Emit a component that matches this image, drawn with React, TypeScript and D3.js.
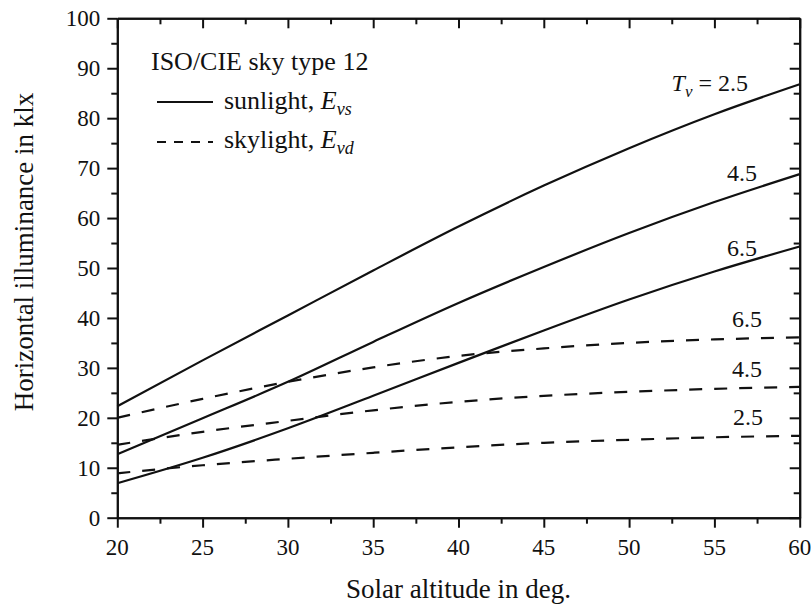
import React, { useEffect, useRef } from 'react';
import * as d3 from 'd3';

// solar altitude (deg) and horizontal illuminance (klx)
const altitudes = [20, 25, 30, 35, 40, 45, 50, 55, 60];
const sunlight25 = [22.3, 31.5, 40.5, 49.5, 58.3, 66.5, 74.0, 80.8, 86.8];
const sunlight45 = [12.7, 19.9, 27.2, 35.2, 43.0, 50.2, 57.0, 63.2, 68.8];
const sunlight65 = [6.9, 12.0, 17.9, 24.4, 31.0, 37.5, 43.7, 49.3, 54.3];
const skylight65 = [20.0, 23.8, 27.2, 30.1, 32.4, 33.9, 35.0, 35.7, 36.1];
const skylight45 = [14.6, 17.2, 19.4, 21.5, 23.2, 24.4, 25.2, 25.8, 26.2];
const skylight25 = [8.9, 10.5, 11.8, 13.0, 14.1, 15.0, 15.6, 16.1, 16.4];

const xMajor = [20, 25, 30, 35, 40, 45, 50, 55, 60];
const xMinor = [22.5, 27.5, 32.5, 37.5, 42.5, 47.5, 52.5, 57.5];
const yMajor = [0, 10, 20, 30, 40, 50, 60, 70, 80, 90, 100];
const yMinor = [5, 15, 25, 35, 45, 55, 65, 75, 85, 95];

const series = [
    { values: sunlight25, dashed: false, label: '2.5', first: true },
    { values: sunlight45, dashed: false, label: '4.5' },
    { values: sunlight65, dashed: false, label: '6.5' },
    { values: skylight65, dashed: true, label: '6.5' },
    { values: skylight45, dashed: true, label: '4.5' },
    { values: skylight25, dashed: true, label: '2.5' },
];

const FONT = '"Liberation Serif", "Times New Roman", serif';

const App = () => {
    const axesRef = useRef<SVGGElement>(null);

    const margin = { top: 18.3, left: 117.3 };
    const width = 682.4;
    const height = 499.4;

    const x = d3.scaleLinear().domain([20, 60]).range([0, width]);
    const y = d3.scaleLinear().domain([0, 100]).range([height, 0]);

    const line = d3.line<[number, number]>()
        .x(d => x(d[0]))
        .y(d => y(d[1]))
        .curve(d3.curveMonotoneX);

    useEffect(() => {
        const g = d3.select(axesRef.current);
        g.selectAll('*').remove();

        const style = (sel: any) => {
            sel.selectAll('path').attr('stroke', '#111').attr('stroke-width', 2);
            sel.selectAll('line').attr('stroke', '#111').attr('stroke-width', 2);
            sel.selectAll('text').remove();
        };
        const none = () => '';

        // bottom and left: ticks outward
        g.append('g').attr('transform', `translate(0,${height})`)
            .call(d3.axisBottom(x).tickValues(xMinor).tickSize(6).tickSizeOuter(0).tickFormat(none))
            .call(style);
        g.append('g').attr('transform', `translate(0,${height})`)
            .call(d3.axisBottom(x).tickValues(xMajor).tickSize(10).tickSizeOuter(0).tickFormat(none))
            .call(style);
        g.append('g')
            .call(d3.axisLeft(y).tickValues(yMinor).tickSize(6).tickSizeOuter(0).tickFormat(none))
            .call(style);
        g.append('g')
            .call(d3.axisLeft(y).tickValues(yMajor).tickSize(10).tickSizeOuter(0).tickFormat(none))
            .call(style);
        // top and right: ticks inward
        g.append('g')
            .call(d3.axisTop(x).tickValues(xMinor).tickSize(-6).tickSizeOuter(0).tickFormat(none))
            .call(style);
        g.append('g')
            .call(d3.axisTop(x).tickValues(xMajor).tickSize(-10).tickSizeOuter(0).tickFormat(none))
            .call(style);
        g.append('g').attr('transform', `translate(${width},0)`)
            .call(d3.axisRight(y).tickValues(yMinor).tickSize(-6).tickSizeOuter(0).tickFormat(none))
            .call(style);
        g.append('g').attr('transform', `translate(${width},0)`)
            .call(d3.axisRight(y).tickValues(yMajor).tickSize(-10).tickSizeOuter(0).tickFormat(none))
            .call(style);
    }, []);

    const labelPos = [
        { x: 748, y: 91 },
        { x: 757, y: 181 },
        { x: 757, y: 256 },
        { x: 762, y: 327 },
        { x: 762, y: 377 },
        { x: 763, y: 425 },
    ];

    return (
        <svg width={811} height={608} style={{ position: 'absolute', left: 0, top: 0, background: '#fff' }}
            fontFamily={FONT}>
            <rect width={811} height={608} fill="#fff" />
            <g transform={`translate(${margin.left},${margin.top})`}>
                {series.map((s, i) => (
                    <path key={i}
                        d={line(altitudes.map((a, j) => [a, s.values[j]] as [number, number])) || ''}
                        fill="none" stroke="#111" strokeWidth={2.2}
                        strokeDasharray={s.dashed ? '13,12' : undefined} />
                ))}
                <g ref={axesRef} />
                {/* tick labels */}
                {xMajor.map(v => (
                    <text key={'x' + v} x={x(v)} y={height + 37} textAnchor="middle" fontSize={23} fill="#111">{v}</text>
                ))}
                {yMajor.map(v => (
                    <text key={'y' + v} x={-17} y={y(v)} dy="0.34em" textAnchor="end" fontSize={23} fill="#111">{v}</text>
                ))}
            </g>

            {/* curve labels */}
            {series.map((s, i) => (
                <text key={i} x={labelPos[i].x} y={labelPos[i].y} textAnchor="end" fontSize={24} fill="#111">
                    {s.first ? (
                        <>
                            <tspan fontStyle="italic">T</tspan>
                            <tspan fontStyle="italic" fontSize={17} dy={6}>v</tspan>
                            <tspan dy={-6}>{' = ' + s.label}</tspan>
                        </>
                    ) : s.label}
                </text>
            ))}

            {/* legend */}
            <text x={151} y={70} fontSize={26} fill="#111">ISO/CIE sky type 12</text>
            <line x1={157} x2={213} y1={102} y2={102} stroke="#111" strokeWidth={2.2} />
            <text x={224} y={109} fontSize={26} fill="#111">
                sunlight, <tspan fontStyle="italic">E</tspan>
                <tspan fontStyle="italic" fontSize={18} dy={6}>vs</tspan>
            </text>
            <line x1={157} x2={213} y1={142} y2={142} stroke="#111" strokeWidth={2.2} strokeDasharray="9,8" />
            <text x={224} y={148} fontSize={26} fill="#111">
                skylight, <tspan fontStyle="italic">E</tspan>
                <tspan fontStyle="italic" fontSize={18} dy={6}>vd</tspan>
            </text>

            {/* axis titles */}
            <text x={margin.left + width / 2} y={598} textAnchor="middle" fontSize={27} fill="#111">
                Solar altitude in deg.
            </text>
            <text transform="translate(33,252) rotate(-90)" textAnchor="middle"
                fontSize={27} fill="#111">
                Horizontal illuminance in klx
            </text>
        </svg>
    );
};

export default App;
